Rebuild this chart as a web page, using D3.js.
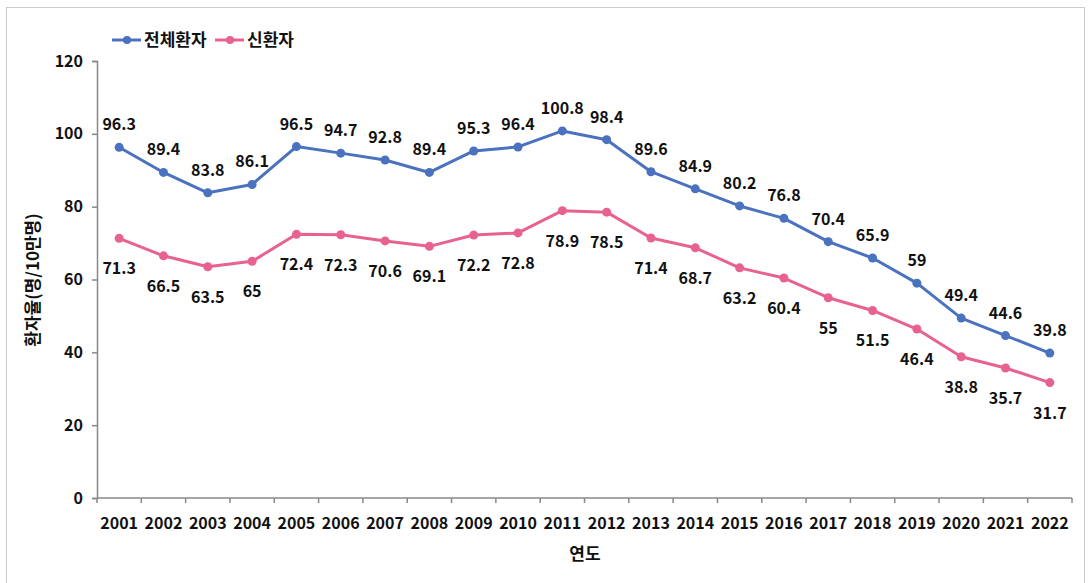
<!DOCTYPE html>
<html>
<head>
<meta charset="utf-8">
<script src="https://cdn.jsdelivr.net/npm/d3@7"></script>
<style>
  html, body { margin: 0; padding: 0; background: #fff; }
  svg text { font-family: "Noto Sans CJK KR", "Noto Sans", sans-serif; font-weight: bold; fill: #111; }
</style>
</head>
<body>
<svg id="chart" width="1091" height="583"></svg>
<script>
// Annual patient rate per 100,000 population
const years = ["2001","2002","2003","2004","2005","2006","2007","2008","2009","2010","2011",
               "2012","2013","2014","2015","2016","2017","2018","2019","2020","2021","2022"];
const totalPatients = [96.3,89.4,83.8,86.1,96.5,94.7,92.8,89.4,95.3,96.4,100.8,
                       98.4,89.6,84.9,80.2,76.8,70.4,65.9,59,49.4,44.6,39.8];
const newPatients = [71.3,66.5,63.5,65,72.4,72.3,70.6,69.1,72.2,72.8,78.9,
                     78.5,71.4,68.7,63.2,60.4,55,51.5,46.4,38.8,35.7,31.7];
const yTicks = [0,20,40,60,80,100,120];
const seriesNames = ["전체환자","신환자"];
const colors = ["#4a72be","#e8628f"];

(function draw() {
  const svg = d3.select("#chart");
  const W = 1091, H = 583;

  // dotted outer frame
  svg.append("rect")
    .attr("x", 6.5).attr("y", 7.5).attr("width", W - 13).attr("height", H + 10)
    .attr("fill", "none").attr("stroke", "#999").attr("stroke-dasharray", "1,1");

  const plotLeft = 97, plotRight = 1072, plotTop = 61, plotBottom = 498;

  const x = d3.scaleBand().domain(years).range([plotLeft, plotRight]);
  const y = d3.scaleLinear().domain([0, 120]).range([plotBottom, plotTop]);
  const cx = d => x(d) + x.bandwidth() / 2;

  // y axis
  const yAxis = svg.append("g").attr("transform", `translate(${plotLeft},0)`)
    .call(d3.axisLeft(y).tickValues(yTicks).tickSize(5).tickPadding(9));
  yAxis.selectAll("path, line").attr("stroke", "#888").attr("stroke-width", 1.5);
  yAxis.selectAll("text").style("font-size", "16px").attr("fill", "#111");

  // x axis with ticks on band boundaries
  const xAxis = svg.append("g").attr("transform", `translate(0,${plotBottom})`);
  xAxis.append("line").attr("x1", plotLeft).attr("x2", plotRight).attr("y1", 0).attr("y2", 0)
    .attr("stroke", "#888").attr("stroke-width", 1.5);
  const bounds = years.map(d => x(d)).concat([plotRight]);
  xAxis.selectAll("line.tick").data(bounds).enter().append("line")
    .attr("class", "tick").attr("x1", d => d).attr("x2", d => d).attr("y1", 0).attr("y2", 5)
    .attr("stroke", "#888").attr("stroke-width", 1.5);
  xAxis.selectAll("text").data(years).enter().append("text")
    .attr("x", d => cx(d)).attr("y", 31).attr("text-anchor", "middle")
    .style("font-size", "16px").text(d => d);

  // axis titles
  svg.append("text").attr("x", 585).attr("y", 560).attr("text-anchor", "middle")
    .style("font-size", "17px").text("연도");
  svg.append("text").attr("transform", "translate(39,280) rotate(-90)")
    .attr("text-anchor", "middle").style("font-size", "17px").text("환자율(명/10만명)");

  // series lines, markers and value labels
  const allSeries = [totalPatients, newPatients];
  allSeries.forEach((vals, i) => {
    const pts = years.map((yr, j) => ({ yr, v: vals[j] }));
    const line = d3.line().x(p => cx(p.yr)).y(p => y(p.v));
    svg.append("path").datum(pts).attr("d", line)
      .attr("fill", "none").attr("stroke", colors[i]).attr("stroke-width", 3)
      .attr("stroke-linejoin", "round");
    svg.selectAll(null).data(pts).enter().append("circle")
      .attr("cx", p => cx(p.yr)).attr("cy", p => y(p.v)).attr("r", 4.5)
      .attr("fill", colors[i]);
    svg.selectAll(null).data(pts).enter().append("text")
      .attr("x", p => cx(p.yr))
      .attr("y", p => i === 0 ? y(p.v) - 17 : y(p.v) + 36)
      .attr("text-anchor", "middle").style("font-size", "16px")
      .text(p => p.v);
  });

  // legend
  const legend = svg.append("g").attr("transform", "translate(112,40)");
  const legendPos = [0, 103];
  seriesNames.forEach((name, i) => {
    const g = legend.append("g").attr("transform", `translate(${legendPos[i]},0)`);
    g.append("line").attr("x1", 0).attr("x2", 29).attr("y1", 0).attr("y2", 0)
      .attr("stroke", colors[i]).attr("stroke-width", 3);
    g.append("circle").attr("cx", 15).attr("cy", 0).attr("r", 4).attr("fill", colors[i]);
    g.append("text").attr("x", 32).attr("y", 6).style("font-size", "17px").text(name);
  });
})();
</script>
</body>
</html>
